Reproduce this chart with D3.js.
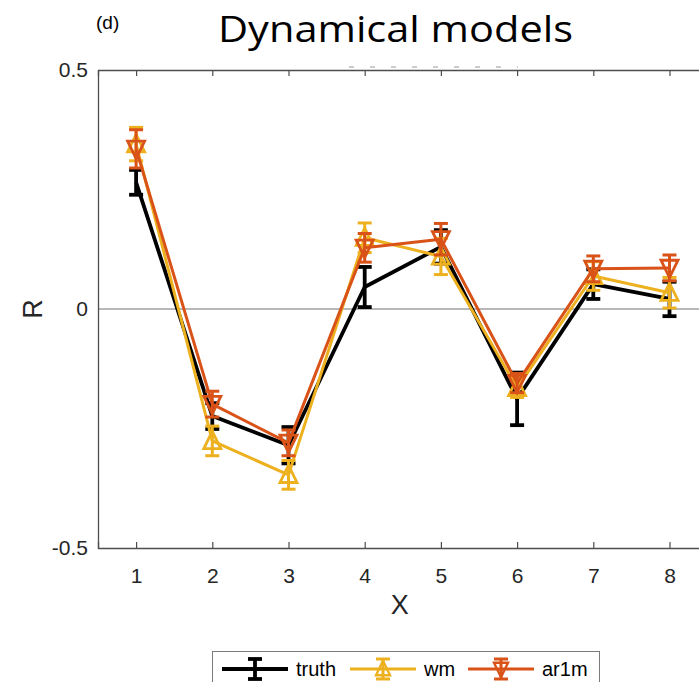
<!DOCTYPE html>
<html>
<head>
    <script src="https://cdnjs.cloudflare.com/ajax/libs/d3/7.8.5/d3.min.js"></script>
    <style>
        body { margin: 0; background: #fff; }
        svg { display: block; }
        text { font-family: "Liberation Sans", Arial, sans-serif; }
    </style>
</head>
<body>
    <div id="chart"></div>

    <script>
        // data
        const xValues = [1, 2, 3, 4, 5, 6, 7, 8];
        const truth    = [0.265, -0.224, -0.285, 0.046, 0.130, -0.188, 0.052, 0.021];
        const truthErr = [0.026, 0.027, 0.038, 0.042, 0.035, 0.055, 0.031, 0.036];
        const wm       = [0.345, -0.276, -0.347, 0.149, 0.110, -0.165, 0.069, 0.034];
        const wmErr    = [0.035, 0.031, 0.030, 0.031, 0.038, 0.020, 0.030, 0.032];
        const ar1m     = [0.335, -0.199, -0.280, 0.128, 0.146, -0.155, 0.084, 0.086];
        const ar1mErr  = [0.040, 0.027, 0.027, 0.030, 0.033, 0.020, 0.027, 0.027];
        const yTicks = [-0.5, 0, 0.5];
        const seriesNames = ["truth", "wm", "ar1m"];

        const width = 699, height = 682;
        const margin = { top: 70, left: 98, bottom: 134 };

        const svg = d3.select("#chart").append("svg")
            .attr("width", width)
            .attr("height", height);

        const x = d3.scaleLinear()
            .domain([0.5, 8.5])
            .range([margin.left, margin.left + 8 * 76.2]);

        const y = d3.scaleLinear()
            .domain([-0.5, 0.5])
            .range([height - margin.bottom, margin.top]);

        const axisColor = "#4d4d4d";

        // zero line
        svg.append("line")
            .attr("x1", x(0.5)).attr("x2", width)
            .attr("y1", y(0)).attr("y2", y(0))
            .attr("stroke", "#b8b8b8")
            .attr("stroke-width", 2);

        // bottom axis
        const gx = svg.append("g")
            .attr("transform", `translate(0,${y(-0.5)})`)
            .call(d3.axisBottom(x).tickValues(xValues).tickSize(-6).tickPadding(20));
        gx.selectAll("text").style("font-size", "21px").attr("fill", "#262626");

        // top axis
        const gt = svg.append("g")
            .attr("transform", `translate(0,${y(0.5)})`)
            .call(d3.axisTop(x).tickValues(xValues).tickSize(-6).tickFormat(""));

        // left axis
        const gy = svg.append("g")
            .attr("transform", `translate(${x(0.5)},0)`)
            .call(d3.axisLeft(y).tickValues(yTicks).tickSize(0).tickPadding(10)
                .tickFormat(d => d === 0 ? "0" : String(d)));
        gy.selectAll("text").style("font-size", "21px").attr("fill", "#262626");

        [gx, gt, gy].forEach(g => {
            g.attr("font-family", null);
            g.select(".domain").attr("stroke", axisColor).attr("stroke-width", 1.3);
            g.selectAll(".tick line").attr("stroke", axisColor).attr("stroke-width", 1.2);
        });

        // faint dashed remnant above the plot
        svg.append("line")
            .attr("x1", 349).attr("x2", 518)
            .attr("y1", 67).attr("y2", 67)
            .attr("stroke", "#9a9a9a")
            .attr("stroke-width", 1.2)
            .attr("stroke-dasharray", "5,16");

        // axis labels
        svg.append("text")
            .attr("x", (x(0.5) + x(8.5)) / 2 - 3)
            .attr("y", 614)
            .attr("text-anchor", "middle")
            .style("font-size", "27px")
            .attr("fill", "#262626")
            .text("X");

        svg.append("text")
            .attr("transform", `translate(42,${y(0)}) rotate(-90)`)
            .attr("text-anchor", "middle")
            .style("font-size", "27px")
            .attr("fill", "#262626")
            .text("R");

        // title and panel letter
        svg.append("text")
            .attr("x", 218)
            .attr("y", 42)
            .attr("textLength", 355)
            .attr("lengthAdjust", "spacingAndGlyphs")
            .style("font-family", "'Open Sans', sans-serif")
            .style("font-size", "37px")
            .attr("fill", "#000")
            .text("Dynamical models");

        svg.append("text")
            .attr("x", 96)
            .attr("y", 29)
            .style("font-size", "19px")
            .attr("fill", "#000")
            .text("(d)");

        const series = [
            { name: seriesNames[0], vals: truth, errs: truthErr, color: "#000000", marker: null, width: 3.8 },
            { name: seriesNames[1], vals: wm, errs: wmErr, color: "#EDB120", marker: "up", width: 3 },
            { name: seriesNames[2], vals: ar1m, errs: ar1mErr, color: "#D95319", marker: "down", width: 3 }
        ];

        const line = d3.line()
            .x((d, i) => x(xValues[i]))
            .y(d => y(d));

        function triPath(cx, cy, dir, s) {
            const h = s * 0.9;
            if (dir === "up") {
                return `M${cx},${cy - h / 2 - 2} L${cx + s / 2},${cy + h / 2} L${cx - s / 2},${cy + h / 2} Z`;
            }
            return `M${cx},${cy + h / 2 + 2} L${cx + s / 2},${cy - h / 2} L${cx - s / 2},${cy - h / 2} Z`;
        }

        function drawErrBar(g, cx, cy, lo, hi, color, w) {
            g.append("line").attr("x1", cx).attr("x2", cx).attr("y1", lo).attr("y2", hi)
                .attr("stroke", color).attr("stroke-width", w);
            [lo, hi].forEach(yy => {
                g.append("line").attr("x1", cx - 7).attr("x2", cx + 7).attr("y1", yy).attr("y2", yy)
                    .attr("stroke", color).attr("stroke-width", w);
            });
        }

        const plot = svg.append("g");

        series.forEach(s => {
            const g = plot.append("g");
            g.append("path")
                .datum(s.vals)
                .attr("d", line)
                .attr("fill", "none")
                .attr("stroke", s.color)
                .attr("stroke-width", s.width)
                .attr("stroke-linejoin", "round");

            s.vals.forEach((v, i) => {
                const cx = x(xValues[i]);
                drawErrBar(g, cx, y(v), y(v - s.errs[i]), y(v + s.errs[i]), s.color, s.width);
                if (s.marker) {
                    g.append("path")
                        .attr("d", triPath(cx, y(v), s.marker, 17))
                        .attr("fill", "none")
                        .attr("stroke", s.color)
                        .attr("stroke-width", 2.8);
                }
            });
        });

        // legend
        const legend = svg.append("g");
        legend.append("rect")
            .attr("x", 212.5).attr("y", 651.5)
            .attr("width", 387).attr("height", 40)
            .attr("fill", "#fff")
            .attr("stroke", "#7a7a7a")
            .attr("stroke-width", 1);

        const legendX = [222, 350, 468];
        const legendY = 669;
        series.forEach((s, i) => {
            const lx = legendX[i];
            const g = legend.append("g");
            g.append("line")
                .attr("x1", lx).attr("x2", lx + 66)
                .attr("y1", legendY).attr("y2", legendY)
                .attr("stroke", s.color).attr("stroke-width", s.width);
            const cx = lx + 33;
            drawErrBar(g, cx, legendY, legendY - 10, legendY + 10, s.color, s.width);
            if (s.marker) {
                g.append("path")
                    .attr("d", triPath(cx, legendY, s.marker, 14))
                    .attr("fill", "none")
                    .attr("stroke", s.color)
                    .attr("stroke-width", 2.4);
            }
            g.append("text")
                .attr("x", lx + 74)
                .attr("y", legendY + 7)
                .style("font-size", "20px")
                .attr("fill", "#000")
                .text(s.name);
        });
    </script>
</body>
</html>
